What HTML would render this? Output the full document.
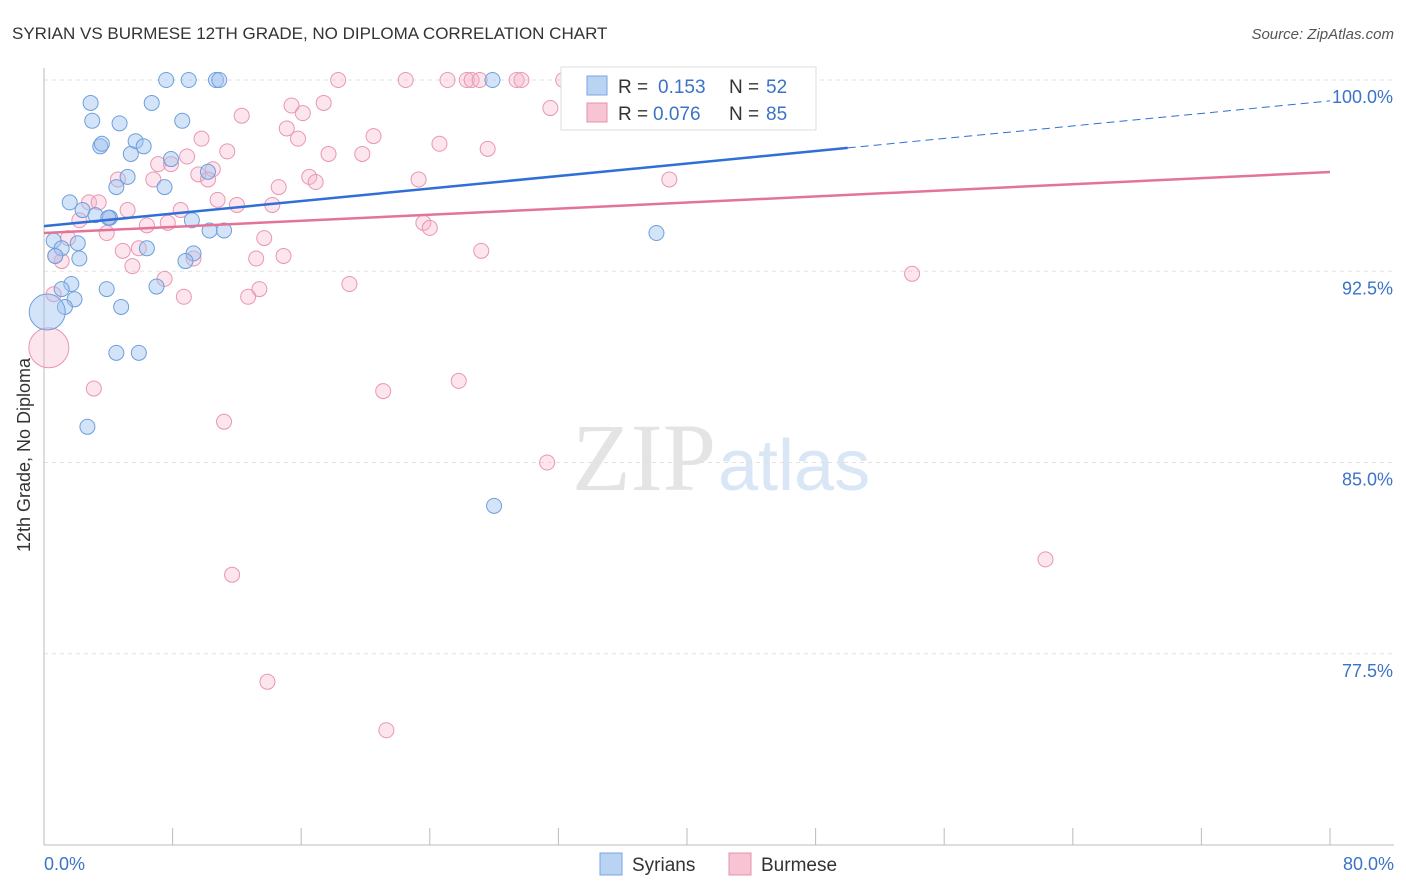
<!DOCTYPE html>
<html><head><meta charset="utf-8"><style>
body{margin:0;background:#fff;font-family:"Liberation Sans",sans-serif}
svg{display:block}
</style></head><body>
<svg width="1406" height="892">
<text x="12" y="39" font-size="17" fill="#333">SYRIAN VS BURMESE 12TH GRADE, NO DIPLOMA CORRELATION CHART</text>
<text x="1394" y="39" font-size="15" fill="#555" text-anchor="end" font-style="italic">Source: ZipAtlas.com</text>
<text x="716" y="490" font-size="96" fill="#e4e4e4" text-anchor="end" font-family="Liberation Serif">ZIP</text>
<text x="718" y="490" font-size="72" fill="#d9e6f5">atlas</text>
<g id="grid"></g><g id="axes"></g><g id="pts"></g><g id="trend"></g>
<text x="30" y="455" font-size="18" fill="#333" text-anchor="middle" transform="rotate(-90 30 455)">12th Grade, No Diploma</text>
<text x="44" y="870" font-size="18" fill="#3b73c8">0.0%</text>
<text x="1394" y="870" font-size="18" fill="#3b73c8" text-anchor="end">80.0%</text>
<g>
<rect x="561" y="67" width="255" height="63" fill="#fff" stroke="#ddd"/>
<rect x="587" y="76" width="20" height="19" fill="#b9d3f3" stroke="#7aa6e0"/>
<rect x="587" y="103" width="20" height="19" fill="#f7c4d4" stroke="#e890ad"/>
<text x="618" y="93" font-size="19" fill="#333">R =</text>
<text x="658" y="93" font-size="19" fill="#3b73c8">0.153</text>
<text x="729" y="93" font-size="19" fill="#333">N =</text>
<text x="766" y="93" font-size="19" fill="#3b73c8">52</text>
<text x="618" y="120" font-size="19" fill="#333">R =</text>
<text x="653" y="120" font-size="19" fill="#3b73c8">0.076</text>
<text x="729" y="120" font-size="19" fill="#333">N =</text>
<text x="766" y="120" font-size="19" fill="#3b73c8">85</text>
</g>
<g>
<rect x="600" y="853" width="22" height="22" fill="#b9d3f3" stroke="#7aa6e0"/>
<text x="632" y="871" font-size="19" fill="#333">Syrians</text>
<rect x="729" y="853" width="22" height="22" fill="#f7c4d4" stroke="#e890ad"/>
<text x="761" y="871" font-size="19" fill="#333">Burmese</text>
</g>
</svg>
<script>
const yTicks=[100,92.5,85,77.5];
const xTicks=[0,8,16,24,32,40,48,56,64,72,80];
const syrX=[7.6,9,10.7,10.9,27.9,47,2.9,6.7,3,4.7,8.6,3.5,3.6,5.7,6.2,5.4,7.9,5.2,4.5,7.5,10.2,1.6,2.4,3.2,4.1,4,9.2,10.3,11.2,38.1,0.6,2.1,1.1,6.4,0.7,2.2,9.3,8.8,1.7,1.1,3.9,7,1.9,1.3,4.8,0.2,4.5,5.9,2.7,28];
const syrY=[100,100,100,100,100,100,99.1,99.1,98.4,98.3,98.4,97.4,97.5,97.6,97.4,97.1,96.9,96.2,95.8,95.8,96.4,95.2,94.9,94.7,94.6,94.6,94.5,94.1,94.1,94,93.7,93.6,93.4,93.4,93.1,93,93.2,92.9,92,91.8,91.8,91.9,91.4,91.1,91.1,90.9,89.3,89.3,86.4,83.3];
const syrR=[7.5,7.5,7.5,7.5,7.5,7.5,7.5,7.5,7.5,7.5,7.5,7.5,7.5,7.5,7.5,7.5,7.5,7.5,7.5,7.5,7.5,7.5,7.5,7.5,7.5,7.5,7.5,7.5,7.5,7.5,7.5,7.5,7.5,7.5,7.5,7.5,7.5,7.5,7.5,7.5,7.5,7.5,7.5,7.5,7.5,18,7.5,7.5,7.5,7.5];
const burX=[18.3,22.5,25.1,26.3,26.6,27.1,29.4,29.7,32.3,37.7,31.5,12.3,15.4,17.4,16.1,15.1,15.8,9.8,11.4,8.9,7.1,7.9,10.5,9.6,10.2,17.7,19.8,20.5,24.6,27.6,6.8,4.6,14.6,16.5,16.9,23.3,38.9,2.8,3.4,5.2,10.8,12,14.2,8.5,4.1,2.2,6.4,7.7,23.6,24,3.9,1.5,13.7,4.9,5.9,9.3,13.2,14.9,27.2,5.5,1.1,0.7,7.5,19,54,13.4,12.7,8.7,0.6,0.3,3.1,21.1,25.8,11.2,31.3,62.3,11.7,13.9,21.3];
const burY=[100,100,100,100,100,100,100,100,100,100,98.9,98.6,99,99.1,98.7,98.1,97.7,97.7,97.2,97,96.7,96.7,96.5,96.3,96.1,97.1,97.1,97.8,97.5,97.3,96.1,96.1,95.8,96.2,96,96.1,96.1,95.2,95.2,94.9,95.3,95.1,95.1,94.9,94.6,94.5,94.3,94.4,94.4,94.2,94,93.8,93.8,93.3,93.4,93,93,93.1,93.3,92.7,92.9,93.1,92.2,92,92.4,91.8,91.5,91.5,91.6,89.5,87.9,87.8,88.2,86.6,85,81.2,80.6,76.4,74.5];
const trendSyr=[94.27,99.18];
const trendBur=[94.0,96.39];
const ns='http://www.w3.org/2000/svg';
const X=v=>44+v*16.075, Y=v=>80+(100-v)*25.5;
function mk(p,t,a){const e=document.createElementNS(ns,t);for(const k in a)e.setAttribute(k,a[k]);p.appendChild(e);return e;}
const grid=document.getElementById('grid'),axes=document.getElementById('axes'),pts=document.getElementById('pts'),tr=document.getElementById('trend');
yTicks.forEach(v=>{
 const l=mk(grid,'line',{x1:44,x2:1394,y1:Y(v),y2:Y(v),stroke:'#e2e2e2','stroke-dasharray':'4 4'});
 
 
 const t=mk(grid,'text',{x:1393,y:Y(v)+23,'font-size':18,fill:'#3b73c8','text-anchor':'end'});t.textContent=v.toFixed(1)+'%';
 
 
});
const ax=mk(axes,'line',{x1:44,x2:44,y1:68,y2:845,stroke:'#bbb'});


const bx=mk(axes,'line',{x1:44,x2:1394,y1:845,y2:845,stroke:'#bbb'});


xTicks.forEach(v=>{const t=mk(axes,'line',{x1:X(v),x2:X(v),y1:828,y2:845,stroke:'#bbb'});
 
 });
burX.forEach((x,i)=>{const c=mk(pts,'circle',{cx:X(x),cy:Y(burY[i]),r:i==69?20:7.5,fill:'rgba(247,180,202,0.35)',stroke:'#e996b2','stroke-width':1});
 
 });
syrX.forEach((x,i)=>{const c=mk(pts,'circle',{cx:X(x),cy:Y(syrY[i]),r:syrR[i],fill:'rgba(160,195,240,0.45)',stroke:'#6d9fdc','stroke-width':1});
 
 });
const sy=x=>trendSyr[0]+(trendSyr[1]-trendSyr[0])*x/80;
const t1=mk(tr,'line',{x1:X(0),y1:Y(sy(0)),x2:X(50),y2:Y(sy(50)),stroke:'#2f6fd6','stroke-width':2.5});


const t2=mk(tr,'line',{x1:X(50),y1:Y(sy(50)),x2:X(80),y2:Y(sy(80)),stroke:'#2f6fd6','stroke-width':1,'stroke-dasharray':'8 5'});


const t3=mk(tr,'line',{x1:X(0),y1:Y(trendBur[0]),x2:X(80),y2:Y(trendBur[1]),stroke:'#e4739b','stroke-width':2.5});


</script>
</body></html>
